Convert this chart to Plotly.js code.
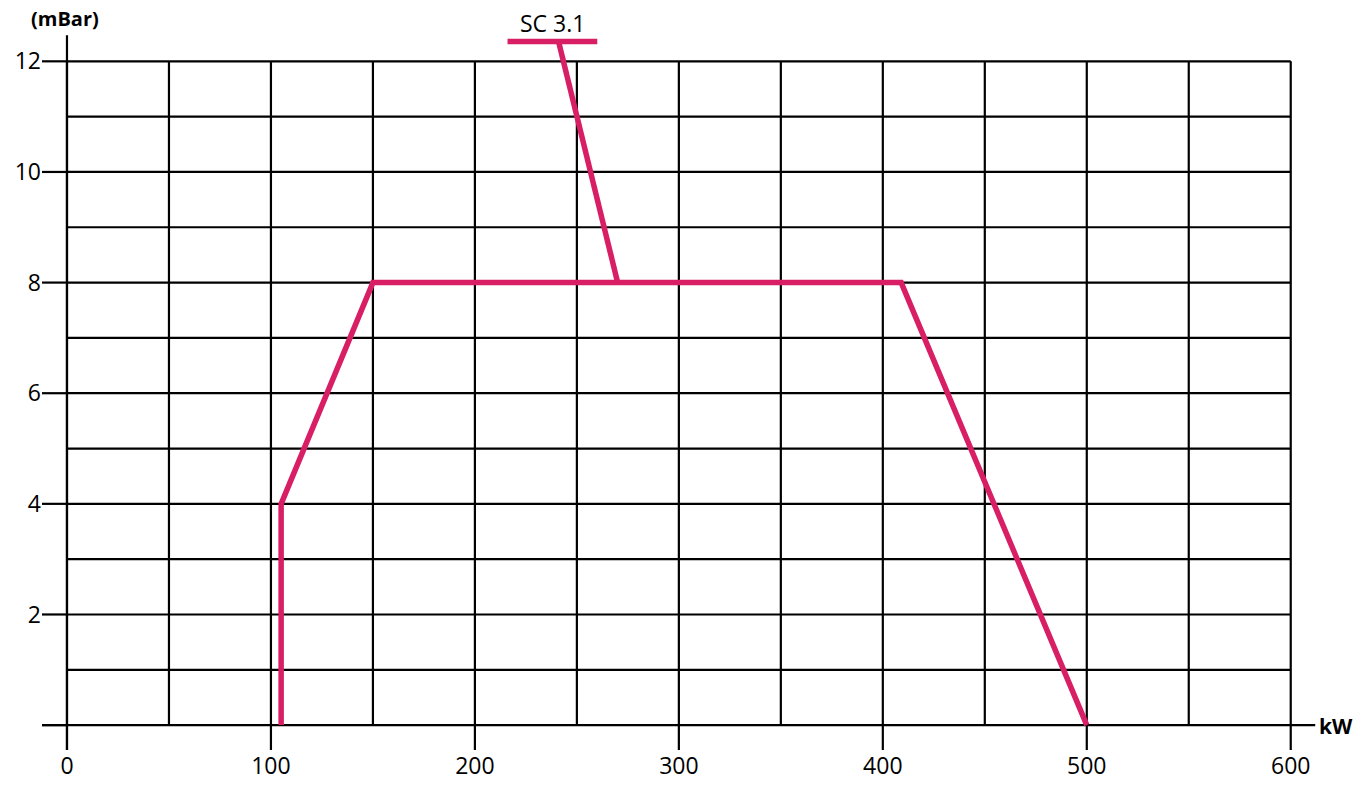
<!DOCTYPE html>
<html>
<head>
<meta charset="utf-8">
<script src="https://cdn.plot.ly/plotly-3.0.1.min.js"></script>
<style>html,body{margin:0;padding:0;background:#fff;}#chart{width:1369px;height:790px;}</style>
</head>
<body>
<div id="chart"></div>
<script>
// Data
const curveX = [105, 105, 150, 409, 500];
const curveY = [0, 4, 8, 8, 0];
const leaderX = [270, 241];
const leaderY = [8, 12.36];
const underlineX = [216, 260];
const underlineY = [12.36, 12.36];
const seriesLabel = "SC 3.1";
const xTickVals = [0, 100, 200, 300, 400, 500, 600];
const xTickText = ["0", "100", "200", "300", "400", "500", "600"];
const yTickVals = [2, 4, 6, 8, 10, 12];
const yTickText = ["2", "4", "6", "8", "10", "12"];
const xGrid = [0, 50, 100, 150, 200, 250, 300, 350, 400, 450, 500, 550, 600];
const yGrid = [1, 2, 3, 4, 5, 6, 7, 8, 9, 10, 11, 12];
const yTickMarks = [0, 2, 4, 6, 8, 10, 12];
const xUnit = "kW";
const yUnit = "(mBar)";

const X0 = 0, X1 = 600, Y0 = 0, Y1 = 12;
const xMin = -12.25, xMax = 632, yMin = -0.45, yMax = 13.0;
const BLACK = "#000";
const PINK = "#d81e64";
const GW = 2.2;

const shapes = [];
xGrid.forEach(v => shapes.push({type: "line", xref: "x", yref: "y", x0: v, x1: v, y0: Y0, y1: Y1, line: {color: BLACK, width: GW}, layer: "below"}));
yGrid.forEach(v => shapes.push({type: "line", xref: "x", yref: "y", x0: X0, x1: X1, y0: v, y1: v, line: {color: BLACK, width: GW}, layer: "below"}));
// tick marks
yTickMarks.forEach(v => shapes.push({type: "line", xref: "x", yref: "y", x0: xMin, x1: X0, y0: v, y1: v, line: {color: BLACK, width: GW}, layer: "below"}));
xTickVals.forEach(v => shapes.push({type: "line", xref: "x", yref: "y", x0: v, x1: v, y0: yMin, y1: Y0, line: {color: BLACK, width: GW}, layer: "below"}));
// axis extensions
shapes.push({type: "line", xref: "x", yref: "y", x0: X0, x1: X0, y0: yMin, y1: 12.47, line: {color: BLACK, width: GW}, layer: "below"});
shapes.push({type: "line", xref: "x", yref: "y", x0: xMin, x1: 612, y0: Y0, y1: Y0, line: {color: BLACK, width: GW}, layer: "below"});

const traces = [
  {x: curveX, y: curveY, mode: "lines", line: {color: PINK, width: 5.5}, hoverinfo: "skip", showlegend: false},
  {x: leaderX, y: leaderY, mode: "lines", line: {color: PINK, width: 5.5}, hoverinfo: "skip", showlegend: false},
  {x: underlineX, y: underlineY, mode: "lines", line: {color: PINK, width: 5.5}, hoverinfo: "skip", showlegend: false}
];

const FONT = "'Open Sans', 'DejaVu Sans', sans-serif";
const layout = {
  width: 1369, height: 790,
  margin: {l: 42, r: 13, t: 6, b: 40, pad: 0},
  paper_bgcolor: "#fff", plot_bgcolor: "#fff",
  font: {family: FONT, size: 23, color: "#000"},
  showlegend: false,
  xaxis: {range: [xMin, xMax], showgrid: false, zeroline: false, showline: false,
          tickmode: "array", tickvals: xTickVals, ticktext: xTickText, ticks: "",
          tickfont: {family: FONT, size: 23, color: "#000"}, fixedrange: true},
  yaxis: {range: [yMin, yMax], showgrid: false, zeroline: false, showline: false,
          tickmode: "array", tickvals: yTickVals, ticktext: yTickText, ticks: "",
          tickfont: {family: FONT, size: 23, color: "#000"}, fixedrange: true},
  shapes: shapes,
  annotations: [
    {x: (underlineX[0] + underlineX[1]) / 2, y: underlineY[0], xref: "x", yref: "y", text: seriesLabel, showarrow: false,
     xanchor: "center", yanchor: "bottom", yshift: 0, font: {family: FONT, size: 23, color: "#000"}},
    {x: -1, y: 12.78, xref: "x", yref: "y", text: "<b>" + yUnit + "</b>", showarrow: false,
     xanchor: "center", yanchor: "middle", font: {family: FONT, size: 20, color: "#000"}},
    {x: 612, y: 0, xref: "x", yref: "y", text: "<b>" + xUnit + "</b>", showarrow: false,
     xanchor: "left", yanchor: "middle", xshift: 2, yshift: -1, font: {family: FONT, size: 21, color: "#000"}}
  ]
};

Plotly.newPlot("chart", traces, layout, {displayModeBar: false, staticPlot: true});
</script>
</body>
</html>
